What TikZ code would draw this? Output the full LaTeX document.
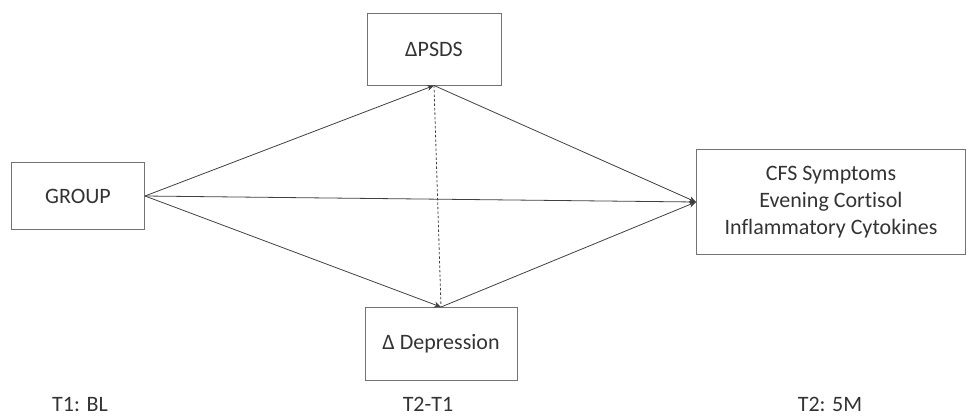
\documentclass[tikz,border=0pt]{standalone}
\usepackage{fontspec}
\setmainfont{Carlito}[Ligatures=NoCommon]
\usetikzlibrary{arrows.meta}
\tikzset{
  var/.style={draw=black!55,line width=1pt,text=black!80,inner sep=0pt,align=center,
    font=\fontsize{22}{27}\selectfont},
  path/.style={draw=black!75,line width=0.8pt,-{Stealth[length=7pt,width=6pt]}},
  wave/.style={text=black!80,font=\fontsize{22}{24}\selectfont}
}
\begin{document}
\begin{tikzpicture}[x=1pt,y=-1pt]
\useasboundingbox (0,0) rectangle (969,416);
\node[var,minimum width=133pt,minimum height=67pt] (group) at (78,196) {GROUP};
\node[var,minimum width=134pt,minimum height=72pt] (psds) at (434,49) {ΔPSDS};
\node[var,minimum width=152pt,minimum height=73pt] (dep) at (441,344) {Δ Depression};
\node[var,minimum width=269pt,minimum height=105pt] (cfs) at (831,202)
  {CFS Symptoms\\Evening Cortisol\\Inflammatory Cytokines};
% time points
\node[wave] (t1) at (80,404) {T1: BL};
\node[wave] (t21) at (428,404) {T2-T1};
\node[wave] (t2) at (830,404) {T2: 5M};
% paths
\draw[path] (group.east) -- (psds.south);
\draw[path] (group.east) -- (dep.north);
\draw[path] (group.east) -- (cfs.west);
\draw[path] (psds.south) -- (cfs.west);
\draw[path] (dep.north) -- (cfs.west);
\draw[black!75,line width=0.8pt,dash pattern=on 2.5pt off 2pt] (psds.south) -- (dep.north);
\end{tikzpicture}
\end{document}
